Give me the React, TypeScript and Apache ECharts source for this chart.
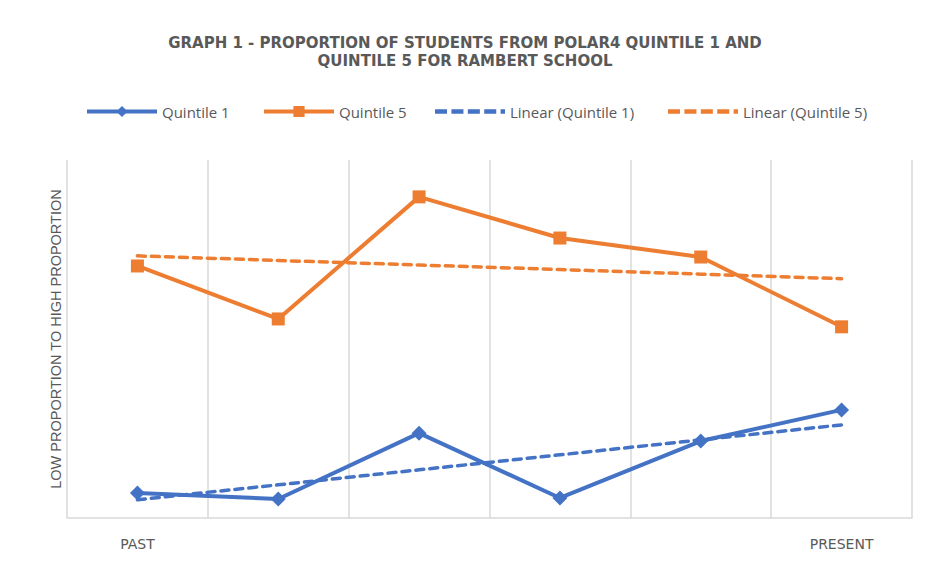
import React, { useEffect, useRef } from "react";
import * as echarts from "echarts";

const titleText =
  "GRAPH 1 - PROPORTION OF STUDENTS FROM POLAR4 QUINTILE 1 AND\nQUINTILE 5 FOR RAMBERT SCHOOL";
const yAxisName = "LOW PROPORTION TO HIGH PROPORTION";
const xLabels = ["PAST", "", "", "", "", "PRESENT"];
const quintile1 = [7.0, 5.3, 23.7, 5.6, 21.5, 30.2];
const quintile5 = [70.4, 55.6, 89.7, 78.2, 72.9, 53.4];
const seriesNames = ["Quintile 1", "Quintile 5", "Linear (Quintile 1)", "Linear (Quintile 5)"];

const BLUE = "#4472C4";
const ORANGE = "#ED7D31";
const TEXT = "#595959";
const GRID = "#D9D9D9";
const FONT = "'Open Sans', 'Liberation Sans', sans-serif";
const WIDE_FONT = "'DejaVu Sans', 'Open Sans', sans-serif";
// dashed legend glyph (four dashes and a dot)
const DASH_ICON =
  "path://M0 0h11v4h-11z M15 0h11v4h-11z M30 0h11v4h-11z M45 0h11v4h-11z M60 0h4v4h-4z";

// Excel-style linear trendline (least squares fit of the series against its index)
function linearTrend(values: number[]): number[] {
  const n = values.length;
  const mx = (n - 1) / 2;
  const my = values.reduce((a, b) => a + b, 0) / n;
  let sxy = 0;
  let sxx = 0;
  values.forEach((v, i) => {
    sxy += (i - mx) * (v - my);
    sxx += (i - mx) * (i - mx);
  });
  const slope = sxy / sxx;
  return values.map((_, i) => +(my + slope * (i - mx)).toFixed(2));
}

const legendLefts = [80, 257, 430, 663];
const legendItems = [
  { name: seriesNames[0], lineStyle: { width: 4 } },
  { name: seriesNames[1], lineStyle: { width: 4 } },
  { name: seriesNames[2], icon: DASH_ICON, itemStyle: { color: BLUE } },
  { name: seriesNames[3], icon: DASH_ICON, itemStyle: { color: ORANGE } },
];

export default function App() {
  const ref = useRef<HTMLDivElement>(null);
  useEffect(() => {
    if (!ref.current) return;
    const chart = echarts.init(ref.current, undefined, { renderer: "svg" });
    chart.setOption({
      animation: false,
      backgroundColor: "#ffffff",
      title: {
        text: titleText,
        left: "center",
        top: 29,
        textStyle: {
          fontFamily: WIDE_FONT,
          fontSize: 15,
          fontWeight: "bold",
          color: TEXT,
          lineHeight: 18,
        },
      },
      legend: legendItems.map((item, i) => ({
        data: [item],
        left: legendLefts[i],
        top: 99,
        itemWidth: 70,
        itemHeight: 14,
        symbolKeepAspect: true,
        textStyle: { fontFamily: FONT, fontSize: 15, color: TEXT },
      })),
      grid: { left: 67, right: 18, top: 160, bottom: 47, containLabel: false },
      xAxis: {
        type: "category",
        data: xLabels,
        boundaryGap: true,
        axisLine: { lineStyle: { color: GRID, width: 1.5 } },
        axisTick: { show: false },
        axisLabel: {
          interval: 0,
          color: TEXT,
          fontFamily: WIDE_FONT,
          fontSize: 14,
          margin: 19,
        },
        splitLine: { show: true, interval: 0, lineStyle: { color: GRID, width: 1.5 } },
      },
      yAxis: {
        type: "value",
        min: 0,
        max: 100,
        name: yAxisName,
        nameLocation: "middle",
        nameGap: 4,
        nameTextStyle: { fontFamily: "'Liberation Sans', sans-serif", fontSize: 14.5, color: TEXT },
        axisLine: { show: false },
        axisTick: { show: false },
        axisLabel: { show: false },
        splitLine: { show: false },
      },
      series: [
        {
          name: seriesNames[2],
          type: "line",
          data: linearTrend(quintile1),
          symbol: "none",
          z: 1,
          lineStyle: { color: BLUE, width: 3.5, type: [8, 6], cap: "round" },
          itemStyle: { color: BLUE },
        },
        {
          name: seriesNames[3],
          type: "line",
          data: linearTrend(quintile5),
          symbol: "none",
          z: 1,
          lineStyle: { color: ORANGE, width: 3.5, type: [8, 6], cap: "round" },
          itemStyle: { color: ORANGE },
        },
        {
          name: seriesNames[0],
          type: "line",
          data: quintile1,
          symbol: "diamond",
          symbolSize: 15,
          z: 3,
          lineStyle: { color: BLUE, width: 4 },
          itemStyle: { color: BLUE },
        },
        {
          name: seriesNames[1],
          type: "line",
          data: quintile5,
          symbol: "rect",
          symbolSize: 13,
          z: 3,
          lineStyle: { color: ORANGE, width: 4 },
          itemStyle: { color: ORANGE },
        },
      ],
    });
    return () => chart.dispose();
  }, []);
  return (
    <div
      ref={ref}
      style={{ position: "fixed", left: 0, top: 0, width: 930, height: 565 }}
    />
  );
}
